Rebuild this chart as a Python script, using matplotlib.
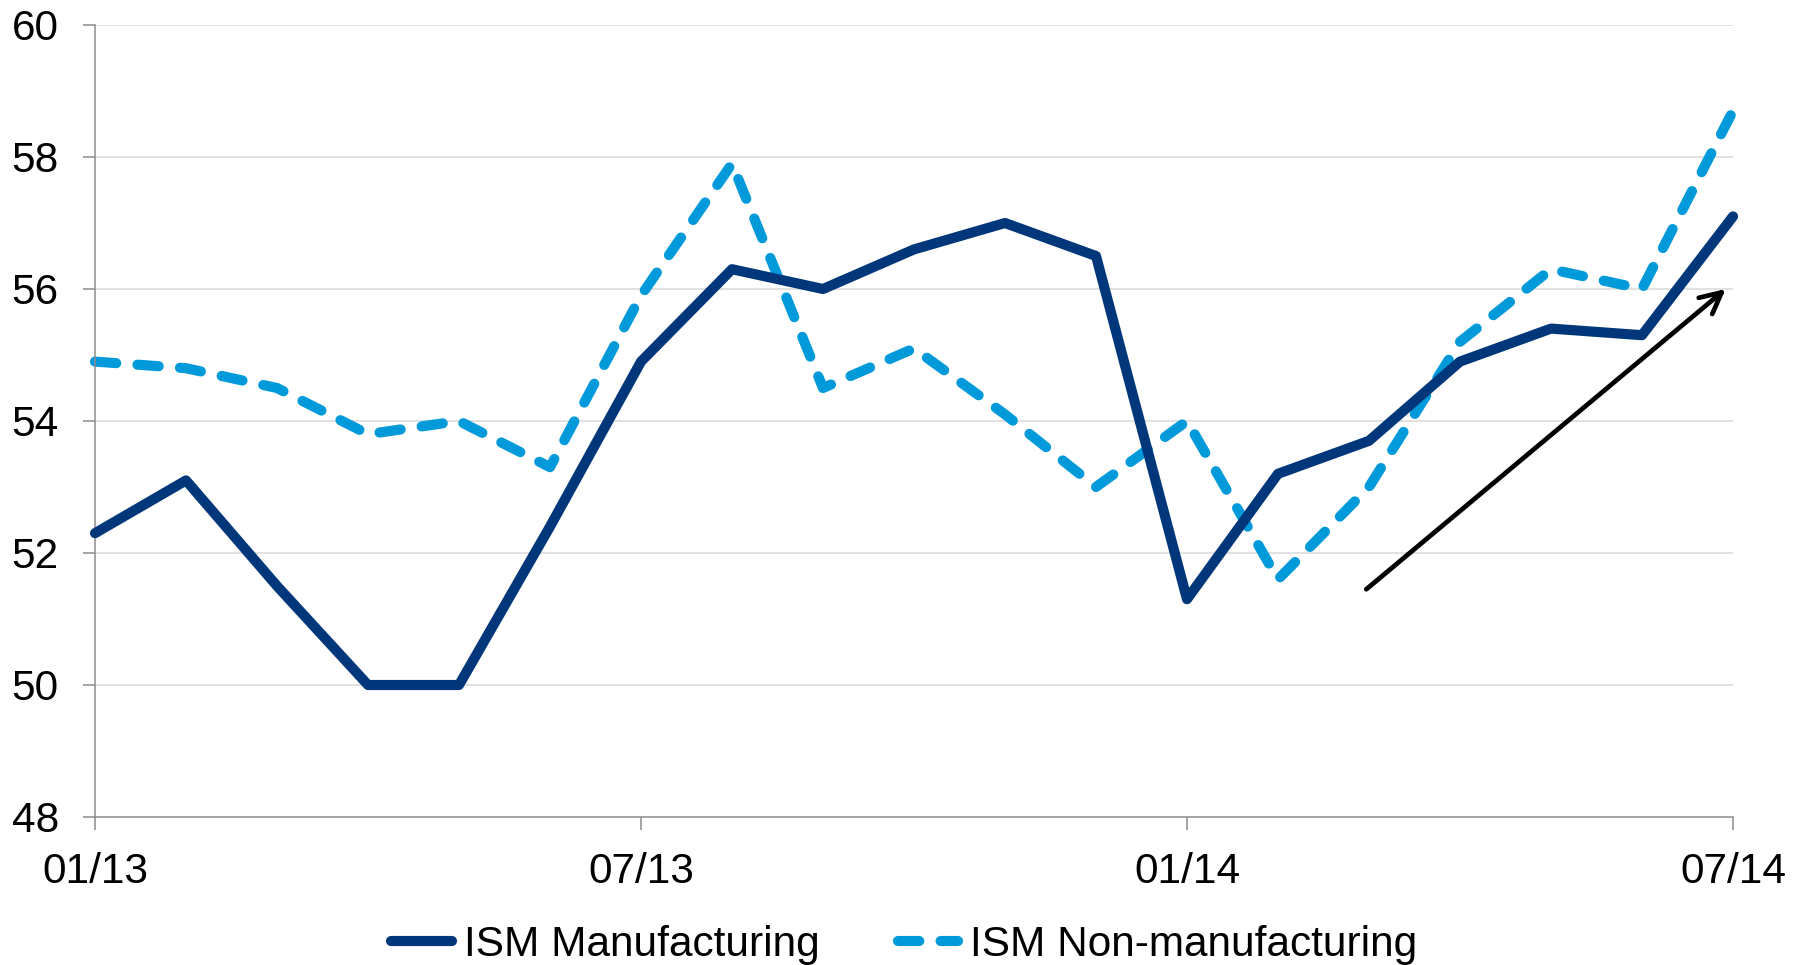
import matplotlib
matplotlib.use("Agg")
import matplotlib.pyplot as plt

# ---- data ----
months = list(range(19))  # 01/13 .. 07/14
tick_positions = [0, 6, 12, 18]
tick_labels = ["01/13", "07/13", "01/14", "07/14"]
ism_manufacturing = [52.3, 53.1, 51.5, 50.0, 50.0, 52.4, 54.9, 56.3, 56.0, 56.6,
                     57.0, 56.5, 51.3, 53.2, 53.7, 54.9, 55.4, 55.3, 57.1]
ism_non_manufacturing = [54.9, 54.8, 54.5, 53.8, 54.0, 53.3, 55.9, 57.9, 54.5, 55.1,
                         54.1, 53.0, 54.0, 51.6, 53.0, 55.2, 56.3, 56.0, 58.7]
series_names = ["ISM Manufacturing", "ISM Non-manufacturing"]
arrow_start = (13.97, 51.45)
arrow_end = (17.92, 56.0)
y_ticks = [48, 50, 52, 54, 56, 58, 60]

# ---- style ----
plt.rcParams['font.family'] = ['Liberation Sans', 'DejaVu Sans']
FS = 30.5
DARK = '#00377A'
LIGHT = '#009ADB'
LW = 7.3
W, H = 1802, 965

fig = plt.figure(figsize=(W / 100, H / 100), dpi=100)
ax = fig.add_axes([95/W, 1 - 817/H, (1733-95)/W, (817-25)/H])

ax.set_xlim(0, 18)
ax.set_ylim(48, 60)

for y in y_ticks[1:]:
    ax.axhline(y, color='#D9D9D9', lw=1.1, zorder=0)

l1, = ax.plot(months, ism_manufacturing, color=DARK, lw=LW,
              solid_capstyle='round', solid_joinstyle='round',
              clip_on=False, zorder=3, label=series_names[0])
l2, = ax.plot(months, ism_non_manufacturing, color=LIGHT, lw=LW,
              dashes=(2.1, 2.1), dash_capstyle='round', dash_joinstyle='round',
              clip_on=False, zorder=2, label=series_names[1])

ax.annotate('', xy=arrow_end, xytext=arrow_start,
            arrowprops=dict(arrowstyle='->', lw=3.4, color='black',
                            mutation_scale=38, shrinkA=0, shrinkB=0),
            zorder=4)

for s in ['top', 'right']:
    ax.spines[s].set_visible(False)
for s in ['left', 'bottom']:
    ax.spines[s].set_color('#8C8C8C')
    ax.spines[s].set_linewidth(1.1)

ax.set_yticks(y_ticks)
ax.set_yticklabels([str(v) for v in y_ticks])
ax.set_xticks(tick_positions)
ax.set_xticklabels(tick_labels)
ax.tick_params(axis='both', labelsize=FS, color='#8C8C8C', width=1.1,
               length=9, direction='out')
ax.tick_params(axis='y', pad=17)
ax.tick_params(axis='x', pad=16)

anchor_x, anchor_y = 0.502, 0.03
leg = fig.legend(handles=[l1, l2], loc='center', bbox_to_anchor=(anchor_x, anchor_y),
                 ncol=2, frameon=False, fontsize=FS, handlelength=1.42,
                 handletextpad=0.3, columnspacing=1.83, borderpad=0, borderaxespad=0)

# place the legend text baseline at the reference position (9 px above bottom)
fig.canvas.draw()
renderer = fig.canvas.get_renderer()
t0 = leg.get_texts()[0]
bb = t0.get_window_extent(renderer)
_, _, descent = renderer.get_text_width_height_descent(
    t0.get_text(), t0.get_fontproperties(), ismath=False)
baseline = bb.y0 + descent
target_baseline = 9.0
anchor_y += (target_baseline - baseline) / H
leg.set_bbox_to_anchor((anchor_x, anchor_y), transform=fig.transFigure)

fig.savefig('out.png', dpi=100)
